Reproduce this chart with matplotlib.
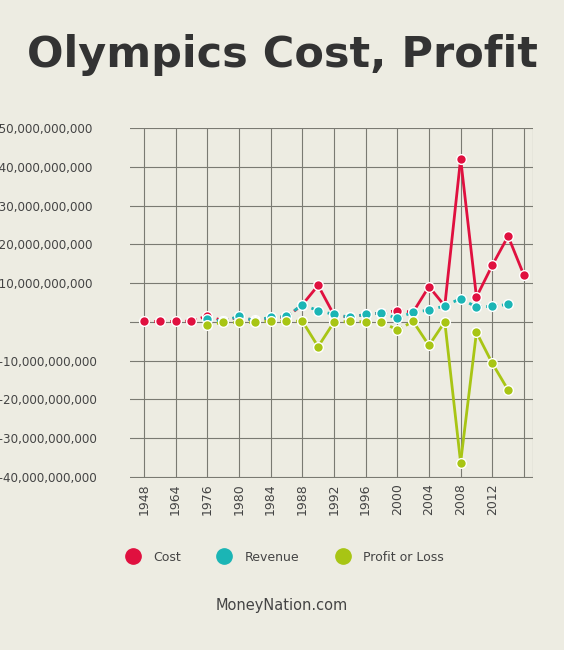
import matplotlib
matplotlib.use("Agg")
import matplotlib.pyplot as plt
from matplotlib.lines import Line2D

# games in order, only every other one gets a tick label
labels = ['1948', '', '1964', '', '1976', '', '1980', '', '1984', '', '1988', '', '1992', '',
          '1996', '', '2000', '', '2004', '', '2008', '', '2012', '', '']

# values in billions of dollars (None = no point)
cost = [0.1, 0.1, 0.1, 0.2, 1.5, 0.3, 1.2, 0.4, 1.0, 1.2, 4.4, 9.4, 1.8, 1.2, 1.9, 2.3,
        2.9, 2.5, 9.1, 4.1, 42.1, 6.4, 14.6, 22.1, 12.0]
revenue = [None, None, None, None, 0.7, 0.2, 1.4, 0.3, 1.2, 1.4, 4.4, 2.9, 1.9, 1.2, 1.9, 2.3,
           0.9, 2.5, 3.0, 4.1, 6.0, 3.8, 4.0, 4.5, None]
profit = [None, None, None, None, -0.9, -0.1, -0.1, -0.1, 0.2, 0.1, 0.2, -6.4, -0.1, 0.1, 0.0, 0.0,
          -2.1, 0.1, -6.1, 0.0, -36.3, -2.7, -10.7, -17.6, None]

# which segments are drawn solid (start index)
cost_solid = {10, 11, 17, 18, 19, 20, 21, 22, 23}
rev_solid = set()
profit_solid = {10, 11, 17, 18, 19, 20, 21, 22}

bg = '#EDECE2'
red, teal, green = '#E0103F', '#1BB5B5', '#A8C514'

fig = plt.figure(figsize=(5.64, 6.5), dpi=100, facecolor=bg)
ax = fig.add_axes([0.2305, 0.2646, 0.7145, 0.5384], facecolor=bg)


def draw(vals, solid, color, z):
    for i in range(len(vals) - 1):
        a, b = vals[i], vals[i + 1]
        if a is None or b is None:
            continue
        ax.plot([i, i + 1], [a, b], color=color, lw=2,
                ls='-' if i in solid else (0, (2, 1.5)), zorder=z)
    xs = [i for i, v in enumerate(vals) if v is not None]
    ys = [v for v in vals if v is not None]
    ax.plot(xs, ys, 'o', color=color, ms=7, mec='white', mew=1.0, zorder=z + 0.5)


draw(cost, cost_solid, red, 3)
draw(revenue, rev_solid, teal, 4)
draw(profit, profit_solid, green, 5)

ax.set_xlim(-0.88, 24.57)
ax.set_ylim(-40.3, 50)
ax.set_xticks(range(0, 25, 2))
ax.set_xticklabels([labels[i] for i in range(0, 25, 2)], rotation=90, fontsize=9, color='#444')
yt = list(range(-40, 51, 10))
ax.set_yticks(yt)
ax.set_yticklabels(['0' if v == 0 else '$%s' % format(v * 1000000000, ',') for v in yt],
                   fontsize=8.6, color='#444', ha='left')
ax.tick_params(axis='y', length=0, pad=100)
ax.tick_params(axis='x', length=0, pad=4)
ax.grid(True, color='#7a7a72', lw=0.8)
ax.set_axisbelow(True)
for s in ax.spines.values():
    s.set_visible(False)
ax.axvline(24.57, color='#7a7a72', lw=0.8, ymax=1, zorder=0)

fig.text(0.5, 0.915, 'Olympics Cost, Profit', ha='center', va='center', fontsize=31,
         fontweight='bold', family=['Liberation Sans Narrow', 'DejaVu Sans'], color='#333333')

handles = [Line2D([], [], ls='', marker='o', ms=11, color=c) for c in (red, teal, green)]
fig.legend(handles, ['Cost', 'Revenue', 'Profit or Loss'], loc='center', bbox_to_anchor=(0.5, 0.143),
           ncol=3, frameon=False, fontsize=9, labelcolor='#444', handletextpad=0.6, columnspacing=2.5)
fig.text(0.5, 0.068, 'MoneyNation.com', ha='center', va='center', fontsize=10.5, color='#444')

fig.savefig('out.png', dpi=100, facecolor=bg)
